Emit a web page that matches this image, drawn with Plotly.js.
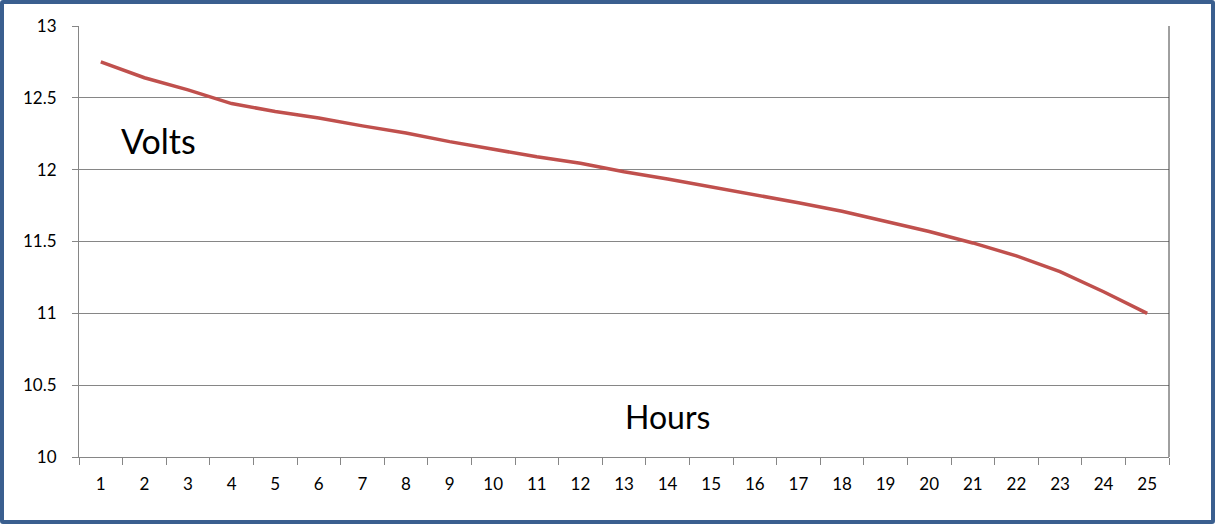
<!DOCTYPE html>
<html>
<head>
<meta charset="utf-8">
<script src="https://cdn.plot.ly/plotly-3.0.1.min.js"></script>
<style>
html,body{margin:0;padding:0;background:#fff;}
#wrap{width:1215px;height:524px;box-sizing:border-box;border:4px solid #3a5f8f;border-radius:3px;overflow:hidden;}
#chart{width:1207px;height:516px;}
</style>
</head>
<body>
<div id="wrap"><div id="chart"></div></div>
<script>
const hours = ["1","2","3","4","5","6","7","8","9","10","11","12","13","14","15","16","17","18","19","20","21","22","23","24","25"];
const volts = [12.75,12.64,12.555,12.46,12.405,12.36,12.305,12.255,12.195,12.14,12.09,12.045,11.985,11.935,11.88,11.83,11.77,11.71,11.64,11.57,11.49,11.4,11.29,11.15,11.0];
const yTicks = [10,10.5,11,11.5,12,12.5,13];
const labelVolts = "Volts";
const labelHours = "Hours";

const font = "Lato, 'Open Sans', sans-serif";

Plotly.newPlot("chart", [{
  type: "scatter",
  mode: "lines",
  x: hours,
  y: volts,
  line: {color: "#c0504d", width: 3.5},
  hoverinfo: "x+y"
}], {
  width: 1207,
  height: 516,
  margin: {l: 75, r: 42, t: 22, b: 63},
  paper_bgcolor: "#ffffff",
  plot_bgcolor: "#ffffff",
  showlegend: false,
  font: {family: font, size: 17, color: "#000000"},
  xaxis: {
    type: "category",
    range: [-0.5, hours.length - 0.5],
    tickson: "boundaries",
    ticks: "outside",
    ticklen: 7,
    tickcolor: "#868686",
    showline: true,
    linecolor: "#868686",
    linewidth: 1,
    showgrid: false,
    zeroline: false,
    ticklabelstandoff: 12,
    tickfont: {family: font, size: 17, color: "#000"},
    fixedrange: true
  },
  yaxis: {
    range: [10, 13],
    tickvals: yTicks,
    ticktext: yTicks.map(String),
    ticks: "outside",
    ticklen: 6,
    tickcolor: "#868686",
    showline: true,
    linecolor: "#868686",
    linewidth: 1,
    showgrid: true,
    gridcolor: "#868686",
    gridwidth: 1,
    zeroline: false,
    ticklabelstandoff: 12,
    tickfont: {family: font, size: 17, color: "#000"},
    fixedrange: true
  },
  shapes: [{
    type: "line", xref: "paper", yref: "paper",
    x0: 1, x1: 1, y0: 0, y1: 1,
    line: {color: "#404040", width: 1}
  }],
  annotations: [
    {text: labelVolts, xref: "paper", yref: "paper", x: 0.073, y: 0.735,
     xanchor: "center", yanchor: "middle", showarrow: false,
     font: {family: font, size: 34, color: "#000"}},
    {text: labelHours, xref: "paper", yref: "paper", x: 0.540, y: 0.093,
     xanchor: "center", yanchor: "middle", showarrow: false,
     font: {family: font, size: 32, color: "#000"}}
  ]
}, {displayModeBar: false, staticPlot: true});
</script>
</body>
</html>
